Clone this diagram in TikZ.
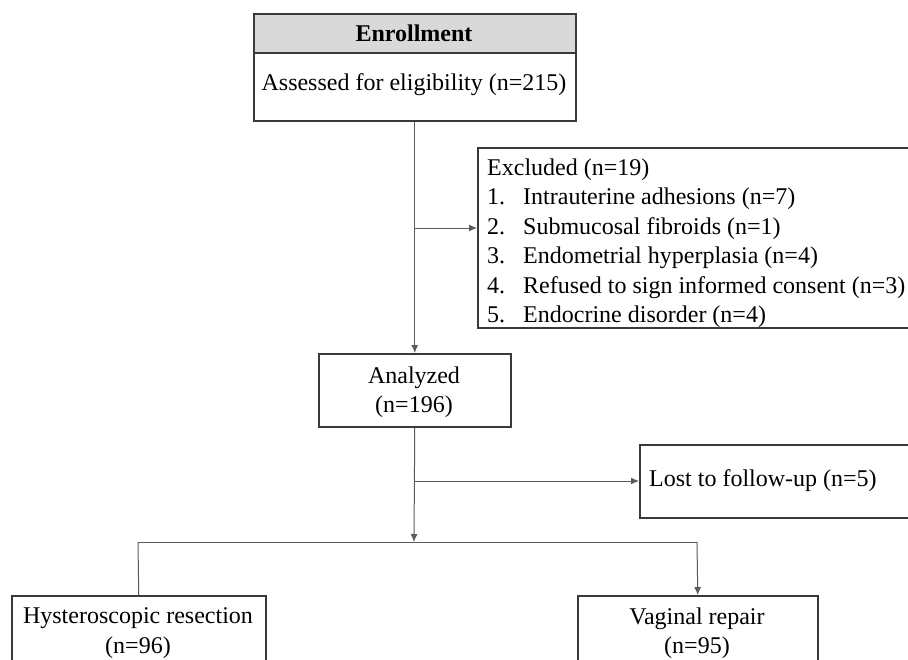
\documentclass[tikz,border=0pt]{standalone}
\usepackage{fontspec}
\setmainfont{Liberation Serif}
\usetikzlibrary{arrows.meta}
\definecolor{boxline}{HTML}{3A3A3A}
\definecolor{conn}{HTML}{5A5A5A}
\definecolor{headfill}{HTML}{D9D9D9}
\tikzset{
  every node/.style={font=\fontsize{24}{29.5}\selectfont, text=black},
  boxnode/.style={draw=boxline, line width=1.5pt, inner sep=0pt, anchor=north west},
  txt/.style={inner sep=0pt},
  conline/.style={draw=conn, line width=1pt},
  arr/.style={conline, -{Latex[length=8pt,width=7pt]}}
}
\begin{document}
\begin{tikzpicture}[x=1pt,y=-1pt]
\useasboundingbox (0,0) rectangle (908,659);
\clip (0,0) rectangle (908,659);
% Enrollment
\node[boxnode, fill=headfill, minimum width=322pt, minimum height=39pt] (enrollhead) at (253,13) {};
\node[txt, font=\fontsize{24}{29.5}\selectfont\bfseries] (enrolltxt) at (414,33) {Enrollment};
\node[boxnode, minimum width=322pt, minimum height=68pt] (enroll) at (253,52) {};
\node[txt] (assessed) at (414,85) {Assessed for eligibility (n=215)};
% Excluded
\node[boxnode, minimum width=480pt, minimum height=180pt] (excl) at (477,147) {};
\node[txt, anchor=west, align=left] (excltxt) at (487,243) {Excluded (n=19)\\
\makebox[36pt][l]{1.}Intrauterine adhesions (n=7)\\
\makebox[36pt][l]{2.}Submucosal fibroids (n=1)\\
\makebox[36pt][l]{3.}Endometrial hyperplasia (n=4)\\
\makebox[36pt][l]{4.}Refused to sign informed consent (n=3)\\
\makebox[36pt][l]{5.}Endocrine disorder (n=4)};
% Analyzed
\node[boxnode, minimum width=192pt, minimum height=73pt] (anal) at (318,353) {};
\node[txt, align=center] (analtxt) at (414,392) {Analyzed\\(n=196)};
% Lost
\node[boxnode, minimum width=300pt, minimum height=73pt] (lost) at (639,444) {};
\node[txt, anchor=west] (losttxt) at (649,481) {Lost to follow-up (n=5)};
% Bottom boxes
\node[boxnode, minimum width=254pt, minimum height=90pt] (hyst) at (11,595) {};
\node[txt, align=center] (hysttxt) at (138,633) {Hysteroscopic resection\\(n=96)};
\node[boxnode, minimum width=240pt, minimum height=90pt] (vag) at (577,595) {};
\node[txt, align=center] (vagtxt) at (697,633) {Vaginal repair\\(n=95)};
% Connectors
\draw[arr] (enroll.south) -- (anal.north);
\coordinate (b1) at (414,228);
\draw[arr] (b1) -- (b1 -| excl.west);
\coordinate (split) at (414,542);
\draw[arr] (anal.south) -- (split);
\coordinate (b2) at (414,481);
\draw[arr] (b2) -- (b2 -| lost.west);
\coordinate (hl) at (138,542);
\coordinate (hr) at (697,542);
\draw[conline] (hl) -- (hr);
\draw[conline] (hl) -- (hyst.north);
\draw[arr] (hr) -- (vag.north);
\end{tikzpicture}
\end{document}
